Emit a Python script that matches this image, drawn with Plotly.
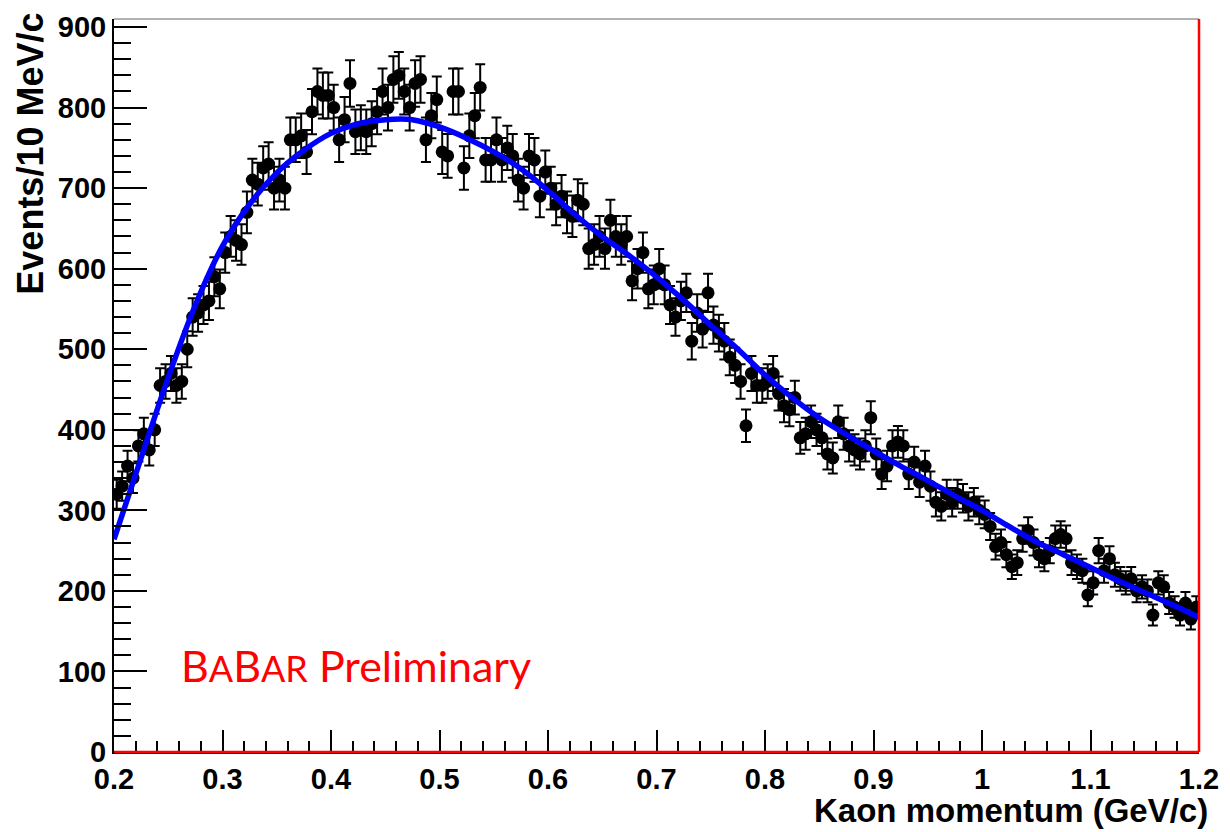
import numpy as np
import plotly.graph_objects as go

# ---------------- data ----------------
bin_lo = 0.2
bin_width = 0.005

events = [
    # 0.20 - 0.30
    320, 330, 355, 340, 380, 395, 375, 400, 455, 460,
    470, 455, 460, 500, 540, 545, 555, 560, 590, 575,
    # 0.30 - 0.40
    620, 640, 635, 630, 670, 710, 705, 725, 730, 700,
    710, 700, 760, 760, 765, 745, 795, 820, 815, 815,
    # 0.40 - 0.50
    800, 760, 785, 830, 770, 775, 770, 780, 795, 820,
    800, 835, 840, 820, 800, 830, 835, 760, 790, 810,
    # 0.50 - 0.60
    745, 740, 820, 820, 725, 765, 790, 825, 735, 735,
    760, 735, 750, 740, 710, 700, 740, 735, 690, 720,
    # 0.60 - 0.70
    700, 680, 690, 670, 665, 685, 680, 625, 630, 640,
    625, 660, 640, 630, 640, 585, 600, 620, 575, 580,
    # 0.70 - 0.80
    600, 580, 555, 540, 560, 570, 510, 545, 525, 570,
    530, 520, 510, 490, 480, 460, 405, 470, 455, 455,
    # 0.80 - 0.90
    460, 470, 445, 430, 425, 440, 390, 395, 410, 400,
    390, 370, 365, 410, 395, 380, 375, 370, 380, 415,
    # 0.90 - 1.00
    370, 345, 355, 380, 385, 380, 345, 360, 335, 355,
    330, 310, 305, 320, 310, 320, 315, 305, 310, 300,
    # 1.00 - 1.10
    295, 280, 255, 260, 245, 230, 235, 265, 275, 260,
    245, 240, 250, 265, 270, 265, 235, 230, 225, 195,
    # 1.10 - 1.20
    210, 250, 225, 240, 220, 215, 210, 215, 200, 205,
    200, 170, 210, 205, 185, 180, 170, 185, 165, 180,
]

fit_x = [0.200, 0.225, 0.250, 0.275, 0.300, 0.325, 0.350, 0.375, 0.400, 0.425,
         0.450, 0.475, 0.500, 0.525, 0.550, 0.575, 0.600, 0.625, 0.650, 0.675,
         0.700, 0.725, 0.750, 0.775, 0.800, 0.825, 0.850, 0.875, 0.900, 0.925,
         0.950, 0.975, 1.000, 1.025, 1.050, 1.075, 1.100, 1.125, 1.150, 1.175,
         1.200]
fit_y = [264, 365, 465, 555, 628, 680, 719, 747, 768, 780,
         785, 785, 776, 762, 745, 724, 697, 667, 640, 616,
         590, 561, 530, 500, 468, 440, 415, 394, 374, 355,
         337, 318, 300, 280, 261, 245, 229, 213, 198, 183,
         167]

x_tickvals = [0.2, 0.3, 0.4, 0.5, 0.6, 0.7, 0.8, 0.9, 1.0, 1.1, 1.2]
x_ticktext = ["0.2", "0.3", "0.4", "0.5", "0.6", "0.7", "0.8", "0.9", "1", "1.1", "1.2"]
y_tickvals = [0, 100, 200, 300, 400, 500, 600, 700, 800, 900]

x_centers = bin_lo + bin_width * (np.arange(len(events)) + 0.5)
events_arr = np.array(events, dtype=float)
errors = np.sqrt(events_arr)

# ---------------- figure ----------------
fig = go.Figure()

fig.add_trace(go.Scatter(
    x=x_centers, y=events_arr, mode="markers",
    marker=dict(color="black", size=13, symbol="circle"),
    error_y=dict(type="data", array=errors, visible=True,
                 color="black", thickness=2, width=5),
    showlegend=False, hoverinfo="x+y",
))

fig.add_trace(go.Scatter(
    x=fit_x, y=fit_y, mode="lines",
    line=dict(color="#0000ff", width=5.5, shape="spline", smoothing=1.0),
    showlegend=False,
))

tick_font = dict(family="Liberation Sans, Arial, sans-serif", size=29,
                 color="black", weight="bold")

fig.update_xaxes(
    range=[0.2, 1.2], tickvals=x_tickvals, ticktext=x_ticktext,
    ticks="inside", ticklen=22, tickwidth=1.5, tickcolor="black",
    minor=dict(ticks="inside", ticklen=11, dtick=0.02, tickwidth=1.5,
               tickcolor="black", showgrid=False),
    showline=True, linecolor="black", linewidth=2,
    showgrid=False, zeroline=False, tickfont=tick_font,
)
fig.update_yaxes(
    range=[0, 910], tickvals=y_tickvals,
    ticks="inside", ticklen=33, tickwidth=1.5, tickcolor="black",
    minor=dict(ticks="inside", ticklen=17, dtick=20, tickwidth=1.5,
               tickcolor="black", showgrid=False),
    showline=True, linecolor="black", linewidth=2,
    showgrid=False, zeroline=False, tickfont=tick_font,
)

fig.update_layout(
    width=1230, height=832,
    margin=dict(l=114, r=24, t=11, b=80),
    plot_bgcolor="white", paper_bgcolor="white",
    shapes=[
        # top frame (grey)
        dict(type="line", xref="paper", yref="paper", x0=0, x1=1, y0=1, y1=1,
             line=dict(color="#999999", width=1.5)),
        # right frame (red)
        dict(type="line", xref="paper", yref="paper", x0=1, x1=1, y0=0, y1=1,
             line=dict(color="#ff0000", width=2.5)),
        # bottom red line under the axis
        dict(type="line", xref="paper", yref="paper", x0=0, x1=1, y0=0, y1=0,
             line=dict(color="#ff0000", width=2.5)),
    ],
    annotations=[
        dict(text="Events/10 MeV/c", textangle=-90, showarrow=False,
             xref="paper", yref="paper", x=-0.077, y=1.012,
             xanchor="center", yanchor="top",
             font=dict(family="Liberation Sans, Arial, sans-serif", size=36,
                       color="black", weight="bold")),
        dict(text="Kaon momentum (GeV/c)", showarrow=False,
             xref="paper", yref="paper", x=1.01, y=-0.0795,
             xanchor="right", yanchor="middle",
             font=dict(family="Liberation Sans, Arial, sans-serif", size=33,
                       color="black", weight="bold")),
        dict(text='B<span style="font-size:36px">A</span>B<span style="font-size:36px">AR</span> Preliminary',
             showarrow=False, xref="paper", yref="paper",
             x=0.06, y=0.1174, xanchor="left", yanchor="middle",
             font=dict(family="Lato, Open Sans, sans-serif", size=43, color="#ff0000")),
    ],
)

fig.write_html("out.html")
